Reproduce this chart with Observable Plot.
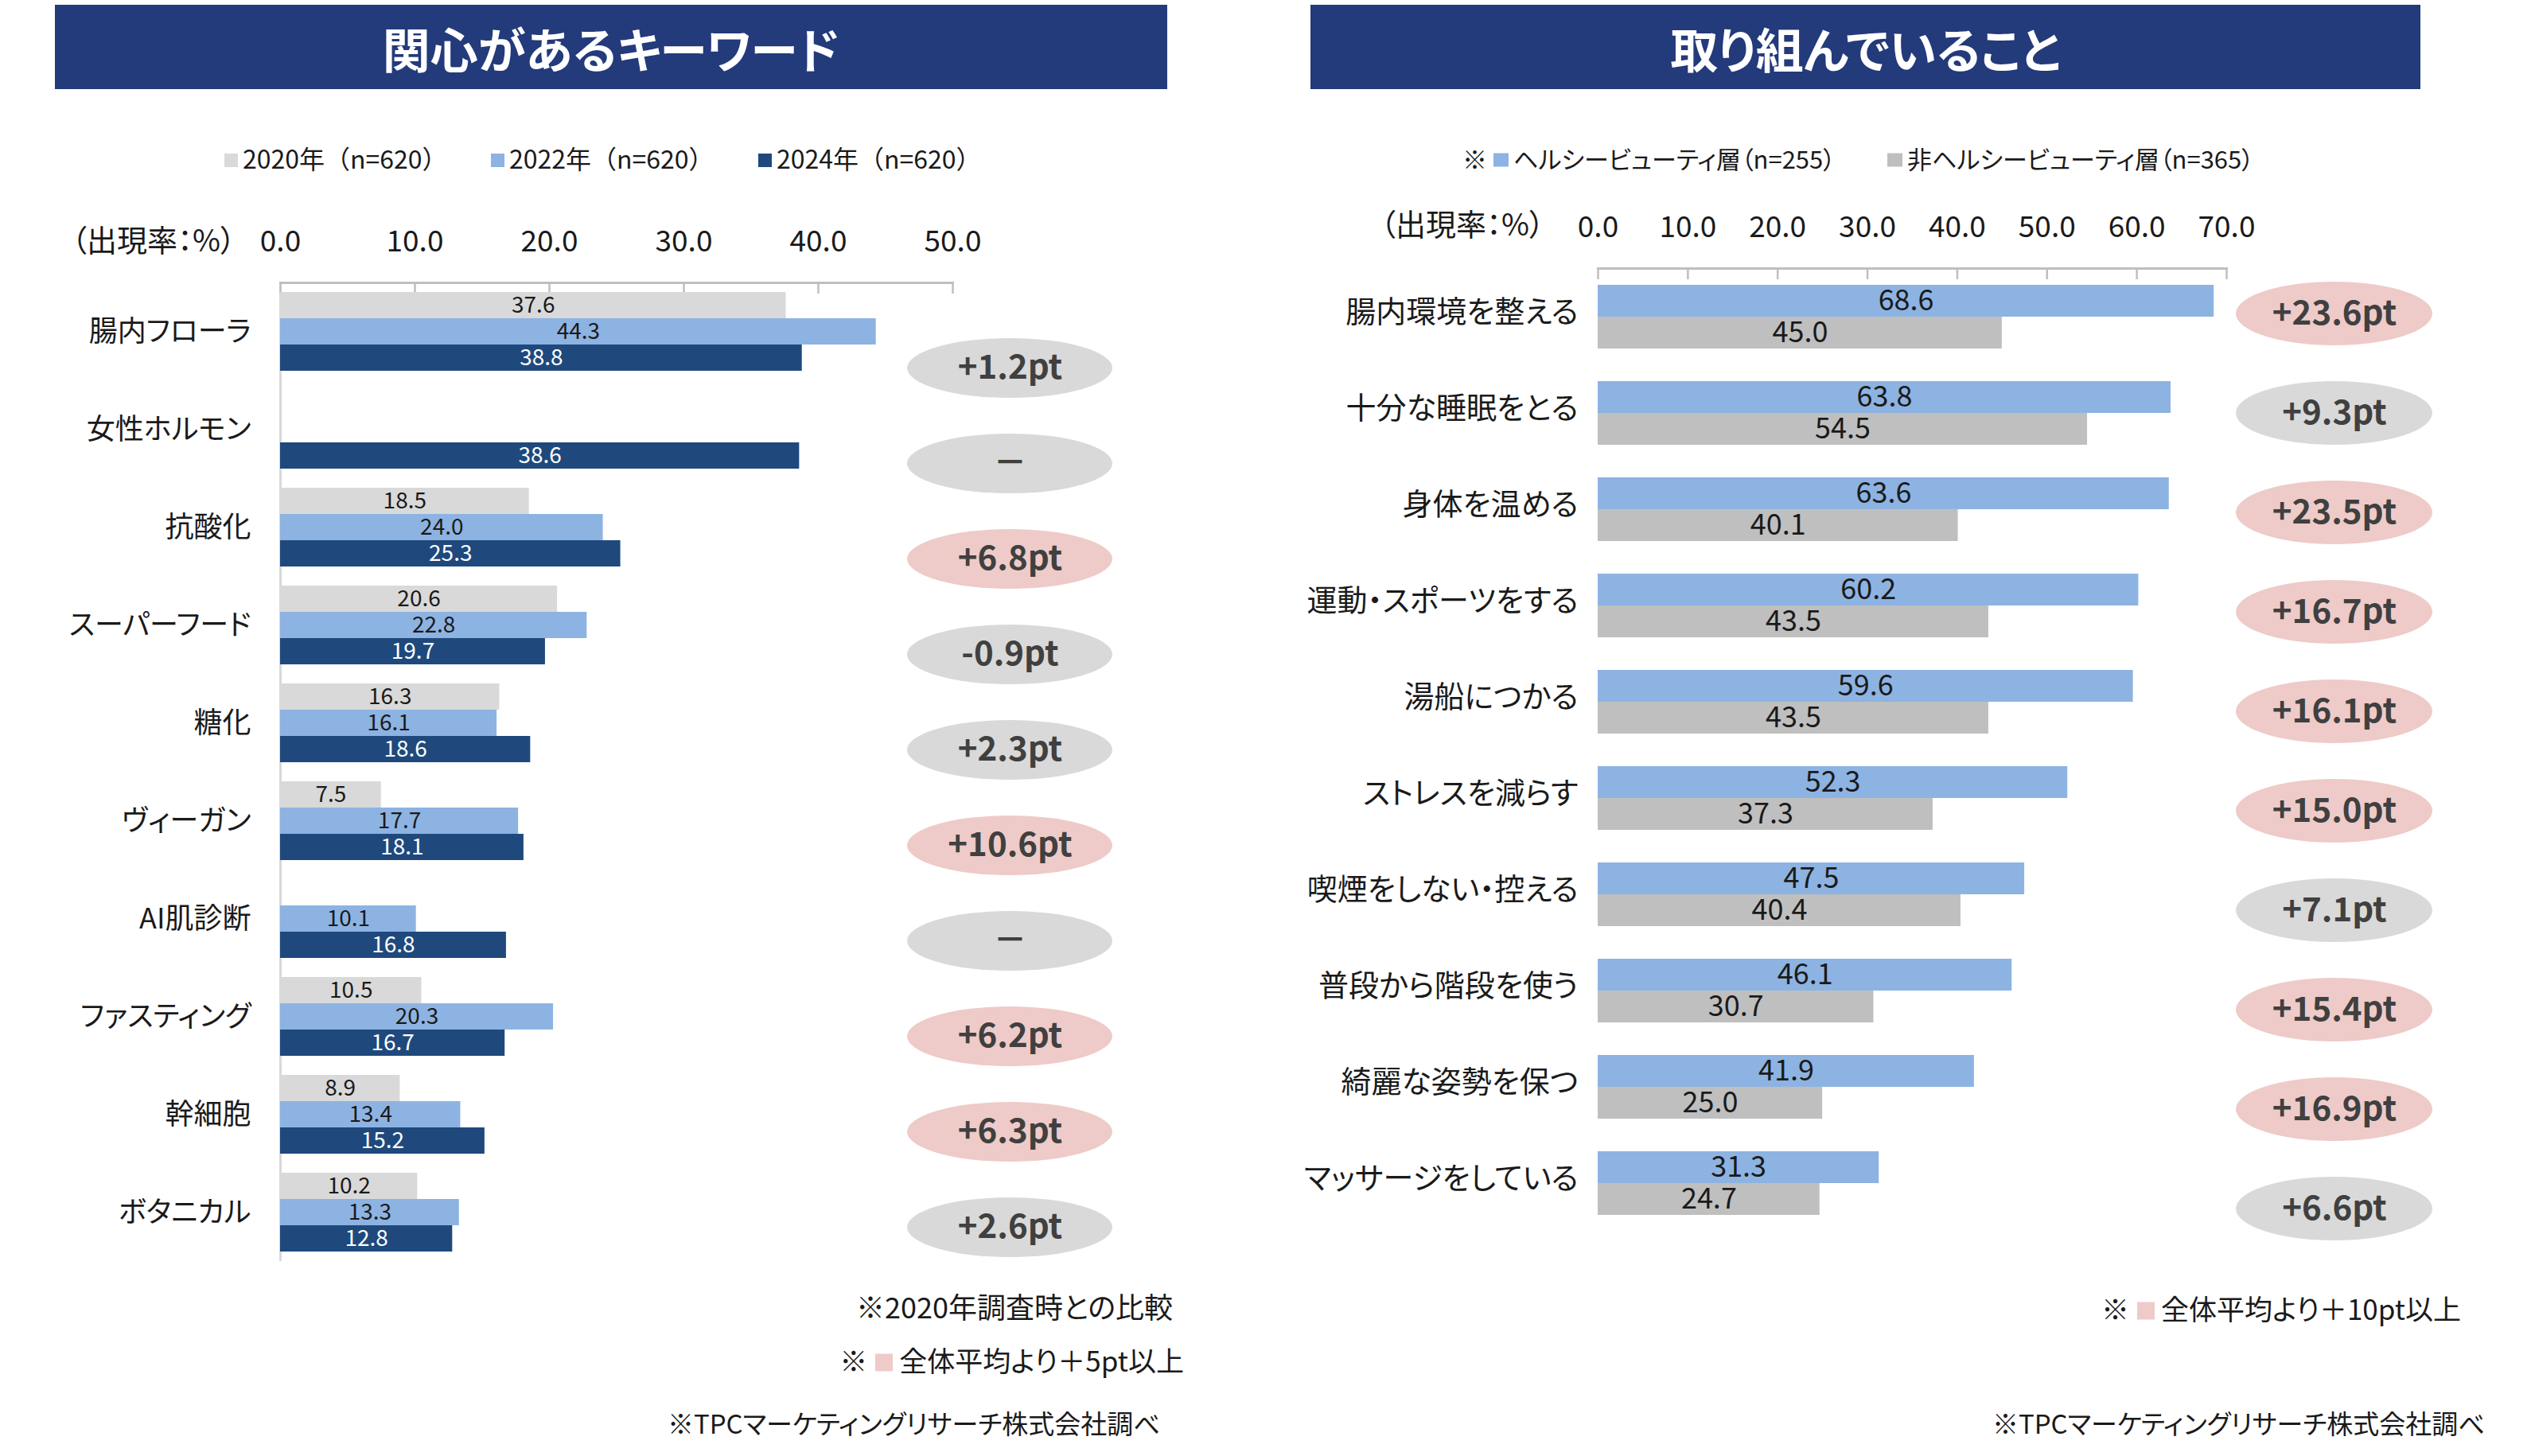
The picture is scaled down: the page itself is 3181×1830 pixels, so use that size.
<!DOCTYPE html>
<html><head><meta charset="utf-8">
<script src="https://cdn.jsdelivr.net/npm/d3@7"></script>
<script src="https://cdn.jsdelivr.net/npm/@observablehq/plot@0.6"></script>
<style>
html,body{margin:0;padding:0;background:#fff;}
body{width:3181px;height:1830px;position:relative;overflow:hidden;font-family:"Noto Sans CJK JP","Noto Sans",sans-serif;color:#1a1a1a;font-feature-settings:"palt";}
svg text{font-feature-settings:"palt";}
.title{position:absolute;background:#233a7b;color:#fff;font-weight:700;font-size:60px;display:flex;align-items:center;justify-content:center;}
.t{position:absolute;white-space:nowrap;line-height:1;transform:translateY(-50%);}
.nopalt{font-feature-settings:normal;}
.sq{display:inline-block;vertical-align:middle;position:relative;top:-2px;}
</style></head><body>
<script>
// ---------- data: 関心があるキーワード ----------
const kwCategories = ["腸内フローラ","女性ホルモン","抗酸化","スーパーフード","糖化","ヴィーガン","AI肌診断","ファスティング","幹細胞","ボタニカル"];
const kwYears = ["2020年（n=620）","2022年（n=620）","2024年（n=620）"];
const kw2020 = [37.6, null, 18.5, 20.6, 16.3, 7.5, null, 10.5, 8.9, 10.2];
const kw2022 = [44.3, null, 24.0, 22.8, 16.1, 17.7, 10.1, 20.3, 13.4, 13.3];
const kw2024 = [38.8, 38.6, 25.3, 19.7, 18.6, 18.1, 16.8, 16.7, 15.2, 12.8];
const kwDiff = ["+1.2pt","－","+6.8pt","-0.9pt","+2.3pt","+10.6pt","－","+6.2pt","+6.3pt","+2.6pt"];
const kwHighlight = [false,false,true,false,false,true,false,true,true,false];
const kwTicks = [0,10,20,30,40,50];

// ---------- data: 取り組んでいること ----------
const actCategories = ["腸内環境を整える","十分な睡眠をとる","身体を温める","運動・スポーツをする","湯船につかる","ストレスを減らす","喫煙をしない・控える","普段から階段を使う","綺麗な姿勢を保つ","マッサージをしている"];
const actSeries = ["ヘルシービューティ層（n=255）","非ヘルシービューティ層（n=365）"];
const actHealthy = [68.6, 63.8, 63.6, 60.2, 59.6, 52.3, 47.5, 46.1, 41.9, 31.3];
const actNonHealthy = [45.0, 54.5, 40.1, 43.5, 43.5, 37.3, 40.4, 30.7, 25.0, 24.7];
const actDiff = ["+23.6pt","+9.3pt","+23.5pt","+16.7pt","+16.1pt","+15.0pt","+7.1pt","+15.4pt","+16.9pt","+6.6pt"];
const actHighlight = [true,false,true,true,true,true,false,true,true,false];
const actTicks = [0,10,20,30,40,50,60,70];

// ---------- tables ----------
const kwSeries = [kw2020, kw2022, kw2024];
const kwData = kwCategories.flatMap((c, i) => kwYears.map((y, j) => ({category: c, year: y, value: kwSeries[j][i]})).filter(d => d.value != null));
const kwPills = kwCategories.map((c, i) => ({category: c, diff: kwDiff[i], hi: kwHighlight[i]}));
const actSer = [actHealthy, actNonHealthy];
const actData = actCategories.flatMap((c, i) => actSeries.map((s, j) => ({category: c, series: s, value: actSer[j][i]})));
const actPills = actCategories.map((c, i) => ({category: c, diff: actDiff[i], hi: actHighlight[i]}));

const FONT = '"Noto Sans CJK JP","Noto Sans",sans-serif';
const INK = "#1a1a1a";
const PILL_GRAY = "#d9d9d9", PILL_PINK = "#eecbc8";

function put(el, left, top) { el.style.position = "absolute"; el.style.left = left + "px"; el.style.top = top + "px"; document.body.appendChild(el); return el; }
function div(cls, html) { const d = document.createElement("div"); d.className = cls; d.innerHTML = html; return d; }

// ---------- titles ----------
const t1 = put(div("title", "関心があるキーワード"), 69, 6); t1.style.width = "1398px"; t1.style.height = "106px";
const t2 = put(div("title", "取り組んでいること"), 1647, 6); t2.style.width = "1395px"; t2.style.height = "106px";

// ---------- legends ----------
const kwColors = ["#d9d9d9", "#8db3e2", "#1f497d"];
const kwLegendX = [282, 617, 953];
kwYears.forEach((y, i) => {
  put(div("t nopalt", `<span class="sq" style="width:17px;height:17px;background:${kwColors[i]}"></span><span style="margin-left:6px">${y}</span>`), kwLegendX[i], 198).style.fontSize = "32px";
});
const actColors = ["#8db3e2", "#bfbfbf"];
const actLegendX = [1877, 2372];
put(div("t", "※"), 1838, 198).style.fontSize = "31px";
actSeries.forEach((s, i) => {
  put(div("t", `<span class="sq" style="width:19px;height:17px;background:${actColors[i]}"></span><span style="margin-left:6px">${s}</span>`), actLegendX[i], 198).style.fontSize = "31px";
});

// axis unit headers
function rightText(html, rightEdge, cy, size) {
  const d = div("t", html); d.style.fontSize = size + "px";
  d.style.right = (3181 - rightEdge) + "px"; d.style.top = cy + "px"; d.style.position = "absolute";
  document.body.appendChild(d); return d;
}
rightText("（出現率：%）", 296, 300, 38);
rightText("（出現率：%）", 1941, 280, 38);

// ---------- left chart ----------
const leftChart = Plot.plot({
  width: 1230, height: 1348,
  marginLeft: 352, marginRight: 33, marginTop: 102, marginBottom: 10,
  style: {fontFamily: FONT, color: INK, background: "transparent", overflow: "visible"},
  x: {domain: [0, 50], axis: null},
  y: {domain: kwYears, paddingInner: 0, paddingOuter: 0.32, axis: null},
  fy: {domain: kwCategories, padding: 0},
  color: {domain: kwYears, range: kwColors},
  marks: [
    Plot.ruleX([0], {stroke: "#d9d9d9", strokeWidth: 3}),
    Plot.frame({anchor: "top", facetAnchor: "top", stroke: "#bfbfbf", strokeWidth: 3}),
    Plot.axisX(kwTicks, {anchor: "top", tickSize: -13, fill: "none", stroke: "#bfbfbf", strokeWidth: 2.5, label: null}),
    Plot.axisX(kwTicks, {anchor: "top", tickSize: 0, tickPadding: 40, fontSize: 37, fill: INK, tickFormat: d => d.toFixed(1), label: null}),
    Plot.axisFy({anchor: "left", tickSize: 0, tickPadding: 37, fontSize: 36, fill: INK, label: null}),
    Plot.barX(kwData, {fy: "category", y: "year", x: "value", fill: "year"}),
    Plot.text(kwData, {filter: d => d.year !== kwYears[2], fy: "category", y: "year", x: d => d.value / 2, text: d => d.value.toFixed(1), fill: INK, fontSize: 28}),
    Plot.text(kwData, {filter: d => d.year === kwYears[2], fy: "category", y: "year", x: d => d.value / 2, text: d => d.value.toFixed(1), fill: "#ffffff", fontSize: 28})
  ]
});
put(leftChart, 0, 250);

const leftPills = Plot.plot({
  width: 258, height: 1206, margin: 0,
  style: {fontFamily: FONT, background: "transparent", overflow: "visible"},
  y: {domain: kwCategories, paddingInner: 0.378, paddingOuter: 0.189, axis: null},
  marks: [
    Plot.cell(kwPills, {filter: d => !d.hi, y: "category", fill: PILL_GRAY, rx: 129, ry: 37.5}),
    Plot.cell(kwPills, {filter: d => d.hi, y: "category", fill: PILL_PINK, rx: 129, ry: 37.5}),
    Plot.text(kwPills, {y: "category", text: "diff", fontSize: 42, fontWeight: 700, fill: "#404040"})
  ]
});
put(leftPills, 1140, 399);

// ---------- right chart ----------
const rightChart = Plot.plot({
  width: 1178, height: 1331,
  marginLeft: 368, marginRight: 20, marginTop: 102, marginBottom: 10,
  style: {fontFamily: FONT, color: INK, background: "transparent", overflow: "visible"},
  x: {domain: [0, 70], axis: null},
  y: {domain: actSeries, paddingInner: 0, paddingOuter: 0.5, axis: null},
  fy: {domain: actCategories, padding: 0},
  color: {domain: actSeries, range: actColors},
  marks: [
    Plot.frame({anchor: "top", facetAnchor: "top", stroke: "#bfbfbf", strokeWidth: 3}),
    Plot.axisX(actTicks, {anchor: "top", tickSize: -13, fill: "none", stroke: "#bfbfbf", strokeWidth: 2.5, label: null}),
    Plot.axisX(actTicks, {anchor: "top", tickSize: 0, tickPadding: 40, fontSize: 37, fill: INK, tickFormat: d => d.toFixed(1), label: null}),
    Plot.axisFy({anchor: "left", tickSize: 0, tickPadding: 25, fontSize: 38, fill: INK, label: null, dy: -5}),
    Plot.barX(actData, {fy: "category", y: "series", x: "value", fill: "series"}),
    Plot.text(actData, {fy: "category", y: "series", x: d => d.value / 2, text: d => d.value.toFixed(1), fill: INK, fontSize: 36})
  ]
});
put(rightChart, 1640, 230);

const rightPills = Plot.plot({
  width: 247, height: 1253, margin: 0,
  style: {fontFamily: FONT, background: "transparent", overflow: "visible"},
  y: {domain: actCategories, paddingInner: 0.3615, paddingOuter: 0.181, axis: null},
  marks: [
    Plot.cell(actPills, {filter: d => !d.hi, y: "category", fill: PILL_GRAY, rx: 123.5, ry: 40}),
    Plot.cell(actPills, {filter: d => d.hi, y: "category", fill: PILL_PINK, rx: 123.5, ry: 40}),
    Plot.text(actPills, {y: "category", text: "diff", fontSize: 42, fontWeight: 700, fill: "#404040"})
  ]
});
put(rightPills, 2810, 330);

// ---------- footnotes ----------
const pinkSq = `<span class="sq" style="width:22px;height:22px;background:${PILL_PINK};margin:0 8px 0 10px"></span>`;
rightText("※2020年調査時との比較", 1474, 1641, 36);
rightText(`※${pinkSq}全体平均より＋5pt以上`, 1488, 1708, 35);
rightText("※TPCマーケティングリサーチ株式会社調べ", 1458, 1788, 33);
rightText(`※${pinkSq}全体平均より＋10pt以上`, 3093, 1643, 35);
rightText("※TPCマーケティングリサーチ株式会社調べ", 3123, 1788, 33);
</script>
</body></html>
